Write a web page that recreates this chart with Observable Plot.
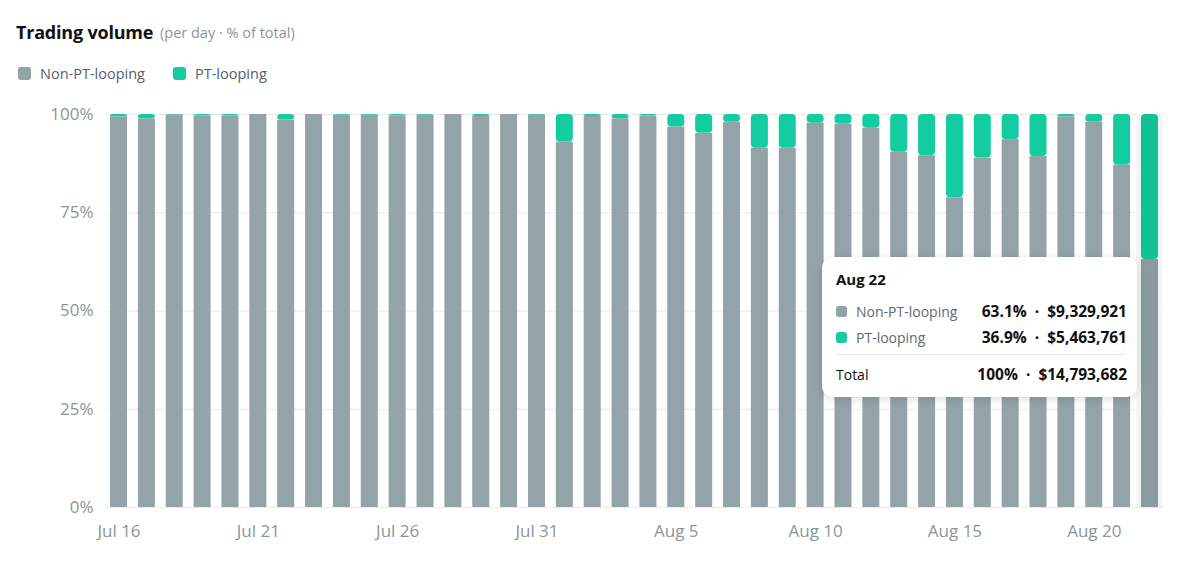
<!DOCTYPE html>
<html>
<head>
<meta charset="utf-8">
<script src="https://cdn.jsdelivr.net/npm/d3@7"></script>
<script src="https://cdn.jsdelivr.net/npm/@observablehq/plot@0.6"></script>
<style>
  html, body { margin: 0; padding: 0; background: #fff; width: 1200px; height: 566px; overflow: hidden; font-family: "Open Sans", "DejaVu Sans", sans-serif; }
  #wrap { position: relative; width: 1200px; height: 566px; }
  #title { position: absolute; left: 16px; top: 20px; font-size: 18px; font-weight: 700; color: #111; letter-spacing: -0.2px; }
  #subtitle { position: absolute; left: 160px; top: 23px; font-size: 14.5px; color: #8b9599; }
  .leg { position: absolute; top: 64px; font-size: 14.5px; color: #55606a; display: flex; align-items: center; }
  .sw { width: 13px; height: 13px; border-radius: 3px; margin-right: 9px; display: inline-block; }
  #chart { position: absolute; left: 0; top: 96px; }
  #tip { position: absolute; left: 822px; top: 257px; width: 315px; height: 140px; background: #fff; border-radius: 11px;
         box-shadow: 0 2px 10px rgba(0,0,0,0.14); font-size: 14px; color: #111; }
  #tip .hd { position: absolute; left: 14px; top: 12px; font-weight: 700; font-size: 15px; }
  #tip .row { position: absolute; left: 14px; right: 10px; display: flex; align-items: center; }
  #tip .row .lab { color: #5f6a72; flex: 1; display: flex; align-items: center; }
  #tip .row .val { font-weight: 700; white-space: pre; font-size: 15.5px; }
  #tip .sep { position: absolute; left: 14px; right: 12px; top: 97px; border-top: 1px solid #e6e8ea; }
</style>
</head>
<body>
<div id="wrap">
  <div id="title">Trading volume</div>
  <div id="subtitle">(per day · % of total)</div>
  <div class="leg" style="left:18px"><span class="sw" style="background:#94a3a8"></span>Non-PT-looping</div>
  <div class="leg" style="left:173px"><span class="sw" style="background:#13cca0"></span>PT-looping</div>
  <div id="chart"></div>
  <div id="tip">
    <div class="hd">Aug 22</div>
    <div class="row" style="top:43px"><span class="lab"><span class="sw" style="background:#94a3a8;width:11px;height:11px;margin-right:9px"></span>Non-PT-looping</span><span class="val">63.1%  ·  $9,329,921</span></div>
    <div class="row" style="top:69px"><span class="lab"><span class="sw" style="background:#13cca0;width:11px;height:11px;margin-right:9px"></span>PT-looping</span><span class="val">36.9%  ·  $5,463,761</span></div>
    <div class="sep"></div>
    <div class="row" style="top:106px"><span class="lab" style="color:#111">Total</span><span class="val">100%  ·  $14,793,682</span></div>
  </div>
</div>
<script>
const dates = ["Jul 16","Jul 17","Jul 18","Jul 19","Jul 20","Jul 21","Jul 22","Jul 23","Jul 24","Jul 25","Jul 26","Jul 27","Jul 28","Jul 29","Jul 30","Jul 31",
  "Aug 1","Aug 2","Aug 3","Aug 4","Aug 5","Aug 6","Aug 7","Aug 8","Aug 9","Aug 10","Aug 11","Aug 12","Aug 13","Aug 14","Aug 15","Aug 16","Aug 17","Aug 18","Aug 19","Aug 20","Aug 21","Aug 22"];
const ptLooping = [0.6,1.1,0.1,0.4,0.4,0.0,1.4,0.0,0.2,0.2,0.4,0.2,0.0,0.5,0.0,0.2,
  7.0,0.5,1.1,0.4,3.2,4.8,2.0,8.6,8.6,2.2,2.5,3.5,9.6,10.5,21.2,11.1,6.4,10.7,0.6,2.0,12.9,36.9];
const nonPtLooping = [99.4,98.9,99.9,99.6,99.6,100,98.6,100,99.8,99.8,99.6,99.8,100,99.5,100,99.8,
  93.0,99.5,98.9,99.6,96.8,95.2,98.0,91.4,91.4,97.8,97.5,96.5,90.4,89.5,78.8,88.9,93.6,89.3,99.4,98.0,87.1,63.1];
const xTicks = ["Jul 16","Jul 21","Jul 26","Jul 31","Aug 5","Aug 10","Aug 15","Aug 20"];
const yTicks = [0,25,50,75,100];
const hovered = "Aug 22";

const rows = dates.map((d,i) => ({date: d, non: nonPtLooping[i], pt: ptLooping[i]}));

const chart = Plot.plot({
  width: 1200,
  height: 470,
  marginLeft: 105,
  marginRight: 37,
  marginTop: 18,
  marginBottom: 59,
  style: {fontFamily: '"Open Sans", "DejaVu Sans", sans-serif', fontSize: "17px", color: "#8b9599", background: "transparent"},
  x: {domain: dates, paddingInner: 0.39, paddingOuter: 0.18, label: null},
  y: {domain: [0,100], label: null},
  marks: [
    Plot.ruleY(yTicks, {stroke: "#e8eaec", strokeWidth: 1}),
    Plot.barY([hovered], {x: d => d, y1: 0, y2: 100, fill: "#f3f4f5", insetLeft: -4.5, insetRight: -4.5}),
    Plot.barY(rows, {x: "date", y1: 0, y2: "non", fill: d => d.date === hovered ? "#8b9a9e" : "#94a3a8"}),
    Plot.barY(rows.filter(d => d.pt > 0), {x: "date", y1: "non", y2: 100, rx: 4, fill: d => d.date === hovered ? "#10c194" : "#13cca0"}),
    Plot.axisX({ticks: xTicks, tickSize: 0, tickPadding: 17, fill: "#8b9599", fontSize: 17}),
    Plot.axisY({ticks: yTicks, tickSize: 0, tickPadding: 12, tickFormat: d => d + "%", fill: "#8b9599", fontSize: 17})
  ]
});
document.getElementById("chart").appendChild(chart);
</script>
</body>
</html>
